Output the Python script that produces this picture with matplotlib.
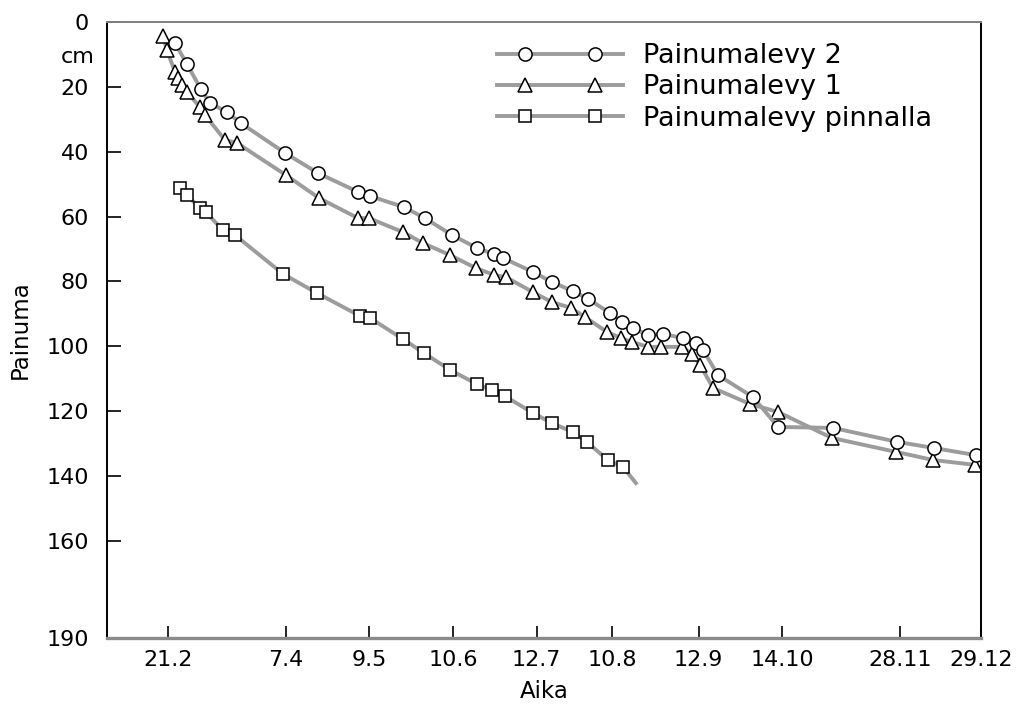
import numpy as np
import pandas as pd
import matplotlib
matplotlib.use("Agg")
import matplotlib.pyplot as plt
from matplotlib.lines import Line2D
from matplotlib.legend_handler import HandlerLine2D

plt.rcParams['font.family'] = ['DejaVu Sans']

# Tick labels on the time axis (day.month), year is not shown in the chart
tick_labels = ['21.2', '7.4', '9.5', '10.6', '12.7', '10.8', '12.9', '14.10', '28.11', '29.12']
tick_dates = pd.to_datetime([t + '.1985' for t in tick_labels], format='%d.%m.%Y')
tick_days = np.array((tick_dates - tick_dates[0]).days)

y_ticks = [0, 20, 40, 60, 80, 100, 120, 140, 160, 190]

# Painumalevy 2 (circles), days since 21.2 and settlement in cm
days_p2 = [2.7, 7.3, 12.6, 16.1, 22.6, 27.9, 44.8, 57.4, 72.7, 77.3, 90.3, 98.3,
           108.6, 118.2, 124.7, 128.2, 139.6, 146.9, 154.9, 160.7, 169.1, 173.7,
           177.9, 183.6, 189.4, 197.0, 202.0, 204.7, 210.4, 223.8, 233.4, 254.4,
           278.9, 293.0, 309.1]
depth_p2 = [6.5, 13.0, 20.7, 25.0, 27.8, 31.2, 40.4, 46.6, 52.4, 53.7, 57.1, 60.5,
            65.7, 69.7, 71.6, 72.8, 77.1, 80.2, 83.0, 85.4, 89.8, 92.5,
            94.4, 96.5, 96.2, 97.5, 99.0, 101.2, 108.9, 115.7, 124.9, 125.2,
            129.5, 131.4, 133.6]

# Painumalevy 1 (triangles)
days_p1 = [-1.9, -0.4, 2.7, 3.8, 5.4, 7.3, 12.2, 14.2, 21.8, 26.4, 45.1, 57.8,
           72.7, 76.9, 89.9, 97.6, 107.9, 117.8, 124.7, 129.3, 139.6, 146.9,
           154.2, 159.5, 167.9, 173.3, 177.5, 183.6, 188.6, 196.6, 200.5, 203.6,
           208.5, 222.6, 233.4, 254.0, 278.5, 292.7, 308.7]
depth_p1 = [4.3, 8.6, 15.4, 17.3, 19.4, 21.6, 26.2, 28.7, 36.4, 37.3, 47.2, 54.3,
            60.5, 60.5, 64.8, 68.2, 71.9, 75.9, 78.0, 78.7, 83.3, 86.4,
            88.2, 91.0, 95.6, 97.5, 98.7, 100.2, 100.2, 100.2, 102.4, 105.8,
            112.9, 117.8, 120.3, 128.3, 132.6, 135.1, 136.6]

# Painumalevy pinnalla (squares), last point is only the line end
days_sq = [4.6, 7.3, 12.2, 14.5, 21.0, 25.6, 44.0, 57.0, 73.5, 77.3, 89.9, 97.9,
           107.9, 118.2, 124.0, 128.9, 139.6, 146.9, 154.9, 160.3, 168.3, 174.1, 179.0]
depth_sq = [51.2, 53.4, 57.4, 58.6, 64.2, 65.7, 77.7, 83.6, 90.7, 91.3, 97.8, 102.1,
            107.3, 111.7, 113.5, 115.4, 120.6, 123.7, 126.5, 129.6, 135.1, 137.3, 142.2]

line_col = '#9c9c9c'
lw = 2.8
mk = dict(markerfacecolor='white', markeredgecolor='black', markeredgewidth=1.1)

fig = plt.figure(figsize=(10.16, 7.12), dpi=100)
ax = fig.add_axes([107/1016, 1-638/712, 874/1016, 616/712])

ax.plot(days_sq, depth_sq, color=line_col, lw=lw, marker='s', ms=8.5,
        markevery=slice(0, len(days_sq)-1), **mk)
ax.plot(days_p1, depth_p1, color=line_col, lw=lw, marker='^', ms=10, **mk)
ax.plot(days_p2, depth_p2, color=line_col, lw=lw, marker='o', ms=9.5, **mk)

ax.set_xlim(-23.3, tick_days[-1])
ax.set_ylim(190, 0)
ax.set_xticks(tick_days)
ax.set_xticklabels(tick_labels)
ax.set_yticks(y_ticks)

ax.tick_params(axis='both', direction='in', labelsize=16, color='black')
ax.tick_params(axis='y', length=10, width=1.2, pad=13)
ax.tick_params(axis='x', length=9, width=1.2, pad=9)

for side in ['left', 'right']:
    ax.spines[side].set_color('black')
    ax.spines[side].set_linewidth(1.4)
ax.spines['top'].set_color('#808080')
ax.spines['top'].set_linewidth(1.4)
ax.spines['bottom'].set_color('#8a8a8a')
ax.spines['bottom'].set_linewidth(2.4)

ax.set_ylabel('Painuma', fontsize=16.5)
ax.yaxis.set_label_coords(-0.086, 0.5)
ax.set_xlabel('Aika', fontsize=16.5)
ax.xaxis.set_label_coords(0.5, -0.068)

ax.text(-0.014, 10.8, 'cm', transform=ax.get_yaxis_transform(),
        ha='right', va='center', fontsize=16)

# legend: grey line over the full handle, two markers set in from the ends
names = ['Painumalevy 2', 'Painumalevy 1', 'Painumalevy pinnalla']
markers = [('o', 9.5), ('^', 10), ('s', 8.5)]
handles = []
hmap = {}
for m, s in markers:
    ln = Line2D([], [], color=line_col, lw=lw)
    pt = Line2D([], [], ls='none', marker=m, ms=s, **mk)
    hmap[ln] = HandlerLine2D(marker_pad=0)
    hmap[pt] = HandlerLine2D(marker_pad=1.05)
    handles.append((ln, pt))

ax.legend(handles, names, handler_map=hmap, loc='upper left',
          bbox_to_anchor=(497/1016, 1-43/712), bbox_transform=fig.transFigure,
          frameon=False, numpoints=2, handlelength=4.65, handletextpad=0.75,
          labelspacing=0.2, borderpad=0, borderaxespad=0, fontsize=19.5)

fig.savefig('out.png', dpi=100)
